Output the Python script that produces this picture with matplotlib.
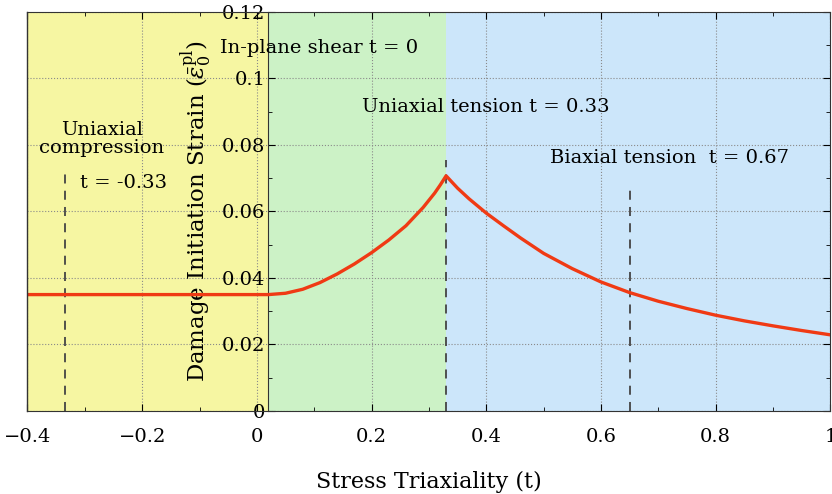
import numpy as np
import matplotlib.pyplot as plt
from matplotlib.ticker import MultipleLocator, FuncFormatter

plt.rcParams['font.family'] = ['DejaVu Serif']
plt.rcParams['mathtext.fontset'] = 'dejavuserif'

# damage initiation strain vs stress triaxiality
t_values = [-0.4, -0.2, 0.0, 0.02, 0.05, 0.08, 0.11, 0.14, 0.17, 0.2, 0.23,
            0.26, 0.29, 0.31, 0.32, 0.33, 0.35, 0.37, 0.4, 0.43, 0.46, 0.5,
            0.55, 0.6, 0.65, 0.7, 0.75, 0.8, 0.85, 0.9, 0.95, 1.0]
strain_values = [0.035, 0.035, 0.035, 0.035, 0.0354, 0.0366, 0.0386, 0.0412,
                 0.0442, 0.0476, 0.0514, 0.0557, 0.0612, 0.0655, 0.0680, 0.0707,
                 0.0670, 0.0638, 0.0595, 0.0557, 0.0520, 0.0474, 0.0428, 0.0388,
                 0.0356, 0.0330, 0.0308, 0.0288, 0.0271, 0.0256, 0.0242, 0.0229]

# loading states: position, dashed line height
state_t = [-0.335, 0.33, 0.65]
state_top = [0.072, 0.0755, 0.0665]

# coloured regions
region_edges = [-0.4, 0.02, 0.33, 1.0]
region_colors = ['#f6f6a2', '#ccf2c6', '#cce6fa']

labels = ['Uniaxial\ncompression', 't = -0.33', 'In-plane shear t = 0',
          'Uniaxial tension t = 0.33', 'Biaxial tension  t = 0.67']
label_pos = [(-0.27, 0.0818), (-0.233, 0.0686), (0.108, 0.1092),
             (0.40, 0.0914), (0.72, 0.0761)]

fig = plt.figure(figsize=(8.32, 4.94), dpi=100)
ax = fig.add_axes([0.033, 0.168, 0.965, 0.808])

for i in range(len(region_colors)):
    ax.axvspan(region_edges[i], region_edges[i + 1], color=region_colors[i], zorder=0, lw=0)

ax.grid(True, which='major', color='#8a8a8a', linestyle=':', linewidth=0.8, zorder=1)

for t, top in zip(state_t, state_top):
    ax.plot([t, t], [0, top], color='#444444', linestyle=(0, (5, 4)), lw=1.3, zorder=2)

ax.plot(t_values, strain_values, color='#f03a14', lw=2.4, zorder=3)

for txt, (x, y) in zip(labels, label_pos):
    ax.text(x, y, txt, ha='center', va='center', fontsize=14, linespacing=1.0, zorder=4)

ax.set_xlim(-0.4, 1.0)
ax.set_ylim(0, 0.12)

ax.xaxis.set_major_locator(MultipleLocator(0.2))
ax.xaxis.set_minor_locator(MultipleLocator(0.1))
ax.yaxis.set_major_locator(MultipleLocator(0.02))
ax.yaxis.set_minor_locator(MultipleLocator(0.01))
ax.yaxis.set_major_formatter(FuncFormatter(lambda v, p: '%g' % round(v, 3)))
ax.xaxis.set_major_formatter(FuncFormatter(lambda v, p: ('%g' % round(v, 2)).replace('-', '\u2212')))

ax.spines['left'].set_position(('data', 0.02))
ax.axvline(-0.4, color='#333333', lw=1.0, clip_on=False, zorder=5)
for s in ax.spines.values():
    s.set_color('#333333')

ax.tick_params(which='both', direction='in', top=True, right=True, labelsize=14)
ax.tick_params(which='major', length=5)
ax.tick_params(which='minor', length=3)
ax.tick_params(axis='x', pad=12)
ax.tick_params(axis='y', pad=2)

ax.set_xlabel('Stress Triaxiality (t)', fontsize=16, labelpad=18)
ax.set_ylabel(r'Damage Initiation Strain ($\bar{\varepsilon}_0^{\rm pl}$)', fontsize=16.5)
ax.yaxis.set_label_coords(0.232, 0.5)

fig.savefig('out.png', dpi=100)
